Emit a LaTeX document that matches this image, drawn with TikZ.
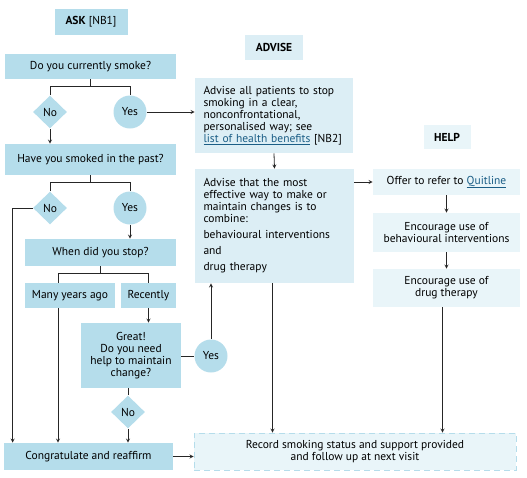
\documentclass[tikz,border=0pt]{standalone}
\usepackage{fontspec}
\setmainfont{PT Sans}
\usetikzlibrary{shapes.geometric}
\definecolor{qblue}{HTML}{B5DDEB}
\definecolor{ablue}{HTML}{DCEEF5}
\definecolor{hblue}{HTML}{E9F5F9}
\definecolor{linkblue}{HTML}{1B5E86}
\newcommand{\weblink}[1]{\textcolor{linkblue}{\underline{#1}}}
\begin{document}
\begin{tikzpicture}[x=1pt, y=-1pt, >=stealth, line width=0.8pt, draw=black!85,
		qbox/.style={fill=qblue, inner sep=3pt, align=center},
		abox/.style={fill=ablue, inner sep=3pt, align=left},
		hbox/.style={fill=hblue, inner sep=3pt, align=center},
		nobox/.style={diamond, fill=qblue, inner sep=0pt, minimum width=34pt, minimum height=33pt},
		yesbox/.style={circle, fill=qblue, inner sep=0pt, minimum size=33pt}]
				\useasboundingbox (0,0) rectangle (527,477);
				\tikzstyle{every node}=[font=\fontsize{11.5}{12}\selectfont]
				% headings
				\node[qbox, minimum width=73pt, minimum height=26pt] (ask) at (91,22) {\textbf{ASK} [NB1]};
				\node[abox, align=center, minimum width=58pt, minimum height=25pt] (advise) at (274,47) {\textbf{ADVISE}};
				\node[hbox, minimum width=47pt, minimum height=24pt] (help) at (447,137) {\textbf{HELP}};
				% ask column
				\node[qbox, minimum width=171pt, minimum height=25pt] (smoke) at (90.5,66.5) {Do you currently smoke?};
				\node[nobox] (no1) at (50,112) {No};
				\node[yesbox] (yes1) at (130,112) {Yes};
				\node[qbox, minimum width=171pt, minimum height=31pt] (past) at (90.5,159.5) {Have you smoked in the past?};
				\node[nobox] (no2) at (50,208) {No};
				\node[yesbox] (yes2) at (130,208) {Yes};
				\node[qbox, minimum width=151pt, minimum height=27pt] (when) at (100.5,252.5) {When did you stop?};
				\node[qbox, minimum width=90pt, minimum height=25pt] (many) at (70,295.5) {Many years ago};
				\node[qbox, minimum width=55pt, minimum height=25pt] (recent) at (148.5,295.5) {Recently};
				\node[qbox, minimum width=100pt, minimum height=65pt] (great) at (131,355.5) {Great!\\Do you need\\help to maintain\\change?};
				\node[yesbox] (yes3) at (211,356) {Yes};
				\node[nobox] (no3) at (128,412) {No};
				\node[qbox, minimum width=169pt, minimum height=27pt] (congrat) at (88.5,456.5) {Congratulate and reaffirm};
				% advise column
				\node[abox, text width=141pt, inner xsep=8.5pt, minimum height=75pt] (adv1) at (274,115.5) {Advise all patients to stop\\smoking in a clear,\\nonconfrontational,\\personalised way; see\\\weblink{list of health benefits} [NB2]};
				\node[abox, text width=142pt, inner xsep=8.5pt, minimum height=114pt] (adv2) at (274.5,226) {Advise that the most\\effective way to make or\\maintain changes is to\\combine:\\[4pt]behavioural interventions\\[4pt]and\\[4pt]drug therapy};
				% help column
				\node[hbox, minimum width=147pt, minimum height=26pt] (quit) at (446.5,182) {Offer to refer to \weblink{Quitline}};
				\node[hbox, minimum width=147pt, minimum height=39pt] (beh) at (446.5,232.5) {Encourage use of\\behavioural interventions};
				\node[hbox, minimum width=147pt, minimum height=38pt] (drug) at (446.5,288) {Encourage use of\\drug therapy};
				\node[hbox, draw=qblue, dashed, dash pattern=on 6pt off 4pt, minimum width=322pt, minimum height=37pt] (record) at (355,451.5) {Record smoking status and support provided\\and follow up at next visit};
				% branches
				\draw (smoke.south) -- ++(0,7) coordinate (b1);
				\draw (no1.north) |- (b1) -| (yes1.north);
				\draw (past.south) -- ++(0,7) coordinate (b2);
				\draw (no2.north) |- (b2) -| (yes2.north);
				\draw (when.south) -- ++(0,7) coordinate (b3);
				\draw ([xshift=-12pt]many.north) |- (b3) -| (recent.north);
				% arrows
				\draw [->] (yes1.east) -- (yes1.east -| adv1.west);
				\draw [->] (no1.south) -- (no1.south |- past.north);
				\draw [->] (yes2.south) -- (yes2.south |- when.north);
				\draw [->] (no2.west) -| ([xshift=9pt]congrat.north west);
				\draw [->] ([xshift=-12pt]many.south) -- ([xshift=-12pt]many.south |- congrat.north);
				\draw [->] (recent.south) -- (recent.south |- great.north);
				\draw (great.east |- yes3.west) -- (yes3.west);
				\draw [->] (yes3.north) -- (yes3.north |- adv2.south);
				\draw (no3.north) -- (no3.north |- great.south);
				\draw [->] (no3.south) -- (no3.south |- congrat.north);
				\draw [->] (congrat.east) -- (congrat.east -| record.west);
				\draw [->] (adv1.south) -- (adv2.north);
				\draw [->] (adv2.east |- quit.west) -- (quit.west);
				\draw [->] ([xshift=-2pt]adv2.south) -- ([xshift=-2pt]adv2.south |- record.north);
				\draw [->] (quit.south) -- (beh.north);
				\draw [->] (beh.south) -- (drug.north);
				\draw [->] ([xshift=-4pt]drug.south) -- ([xshift=-4pt]drug.south |- record.north);
		\end{tikzpicture}
\end{document}
